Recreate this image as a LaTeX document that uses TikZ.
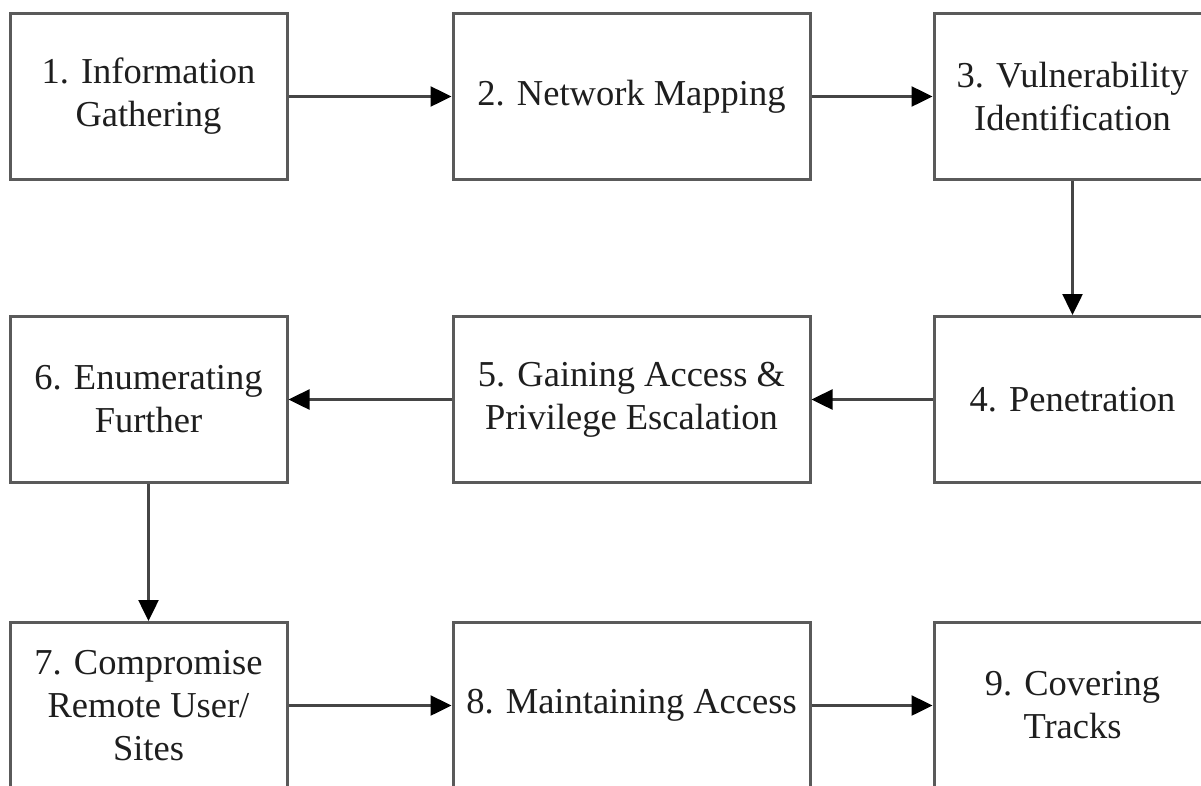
\documentclass[tikz,border=0pt]{standalone}
\usepackage{fontspec}
\setmainfont{Liberation Serif}
\usetikzlibrary{arrows.meta}
\definecolor{boxline}{HTML}{5A5A5A}
\definecolor{arrline}{HTML}{454545}
\definecolor{txt}{HTML}{1E1E1E}
\tikzset{
  stepbox/.style={draw=boxline, line width=3pt, fill=white, minimum height=166pt,
    align=center, text=txt, inner sep=0pt,
    font=\fontsize{36.5}{43}\selectfont},
  narrowbox/.style={stepbox, minimum width=277pt},
  widebox/.style={stepbox, minimum width=357pt},
  flow/.style={draw=arrline, line width=2.5pt,
    -{Triangle[length=21pt,width=20pt,color=black]}}
}
\begin{document}
\begin{tikzpicture}[x=1pt,y=-1pt]
\useasboundingbox (0,0) rectangle (1201,785);
\node[narrowbox] (b1) at (148.5,96.5) {1. Information\\Gathering};
\node[widebox]   (b2) at (631.5,96.5) {2. Network Mapping};
\node[narrowbox] (b3) at (1072.5,96.5) {3. Vulnerability\\Identification};
\node[narrowbox] (b6) at (148.5,399.5) {6. Enumerating\\Further};
\node[widebox]   (b5) at (631.5,399.5) {5. Gaining Access \&\\Privilege Escalation};
\node[narrowbox] (b4) at (1072.5,399.5) {4. Penetration};
\node[narrowbox] (b7) at (148.5,705.5) {7. Compromise\\Remote User/\\Sites};
\node[widebox]   (b8) at (631.5,705.5) {8. Maintaining Access};
\node[narrowbox] (b9) at (1072.5,705.5) {9. Covering\\Tracks};
\draw[flow] (b1.east) -- (b2.west);
\draw[flow] (b2.east) -- (b3.west);
\draw[flow] (b3.south) -- (b4.north);
\draw[flow] (b4.west) -- (b5.east);
\draw[flow] (b5.west) -- (b6.east);
\draw[flow] (b6.south) -- (b7.north);
\draw[flow] (b7.east) -- (b8.west);
\draw[flow] (b8.east) -- (b9.west);
\end{tikzpicture}
\end{document}
